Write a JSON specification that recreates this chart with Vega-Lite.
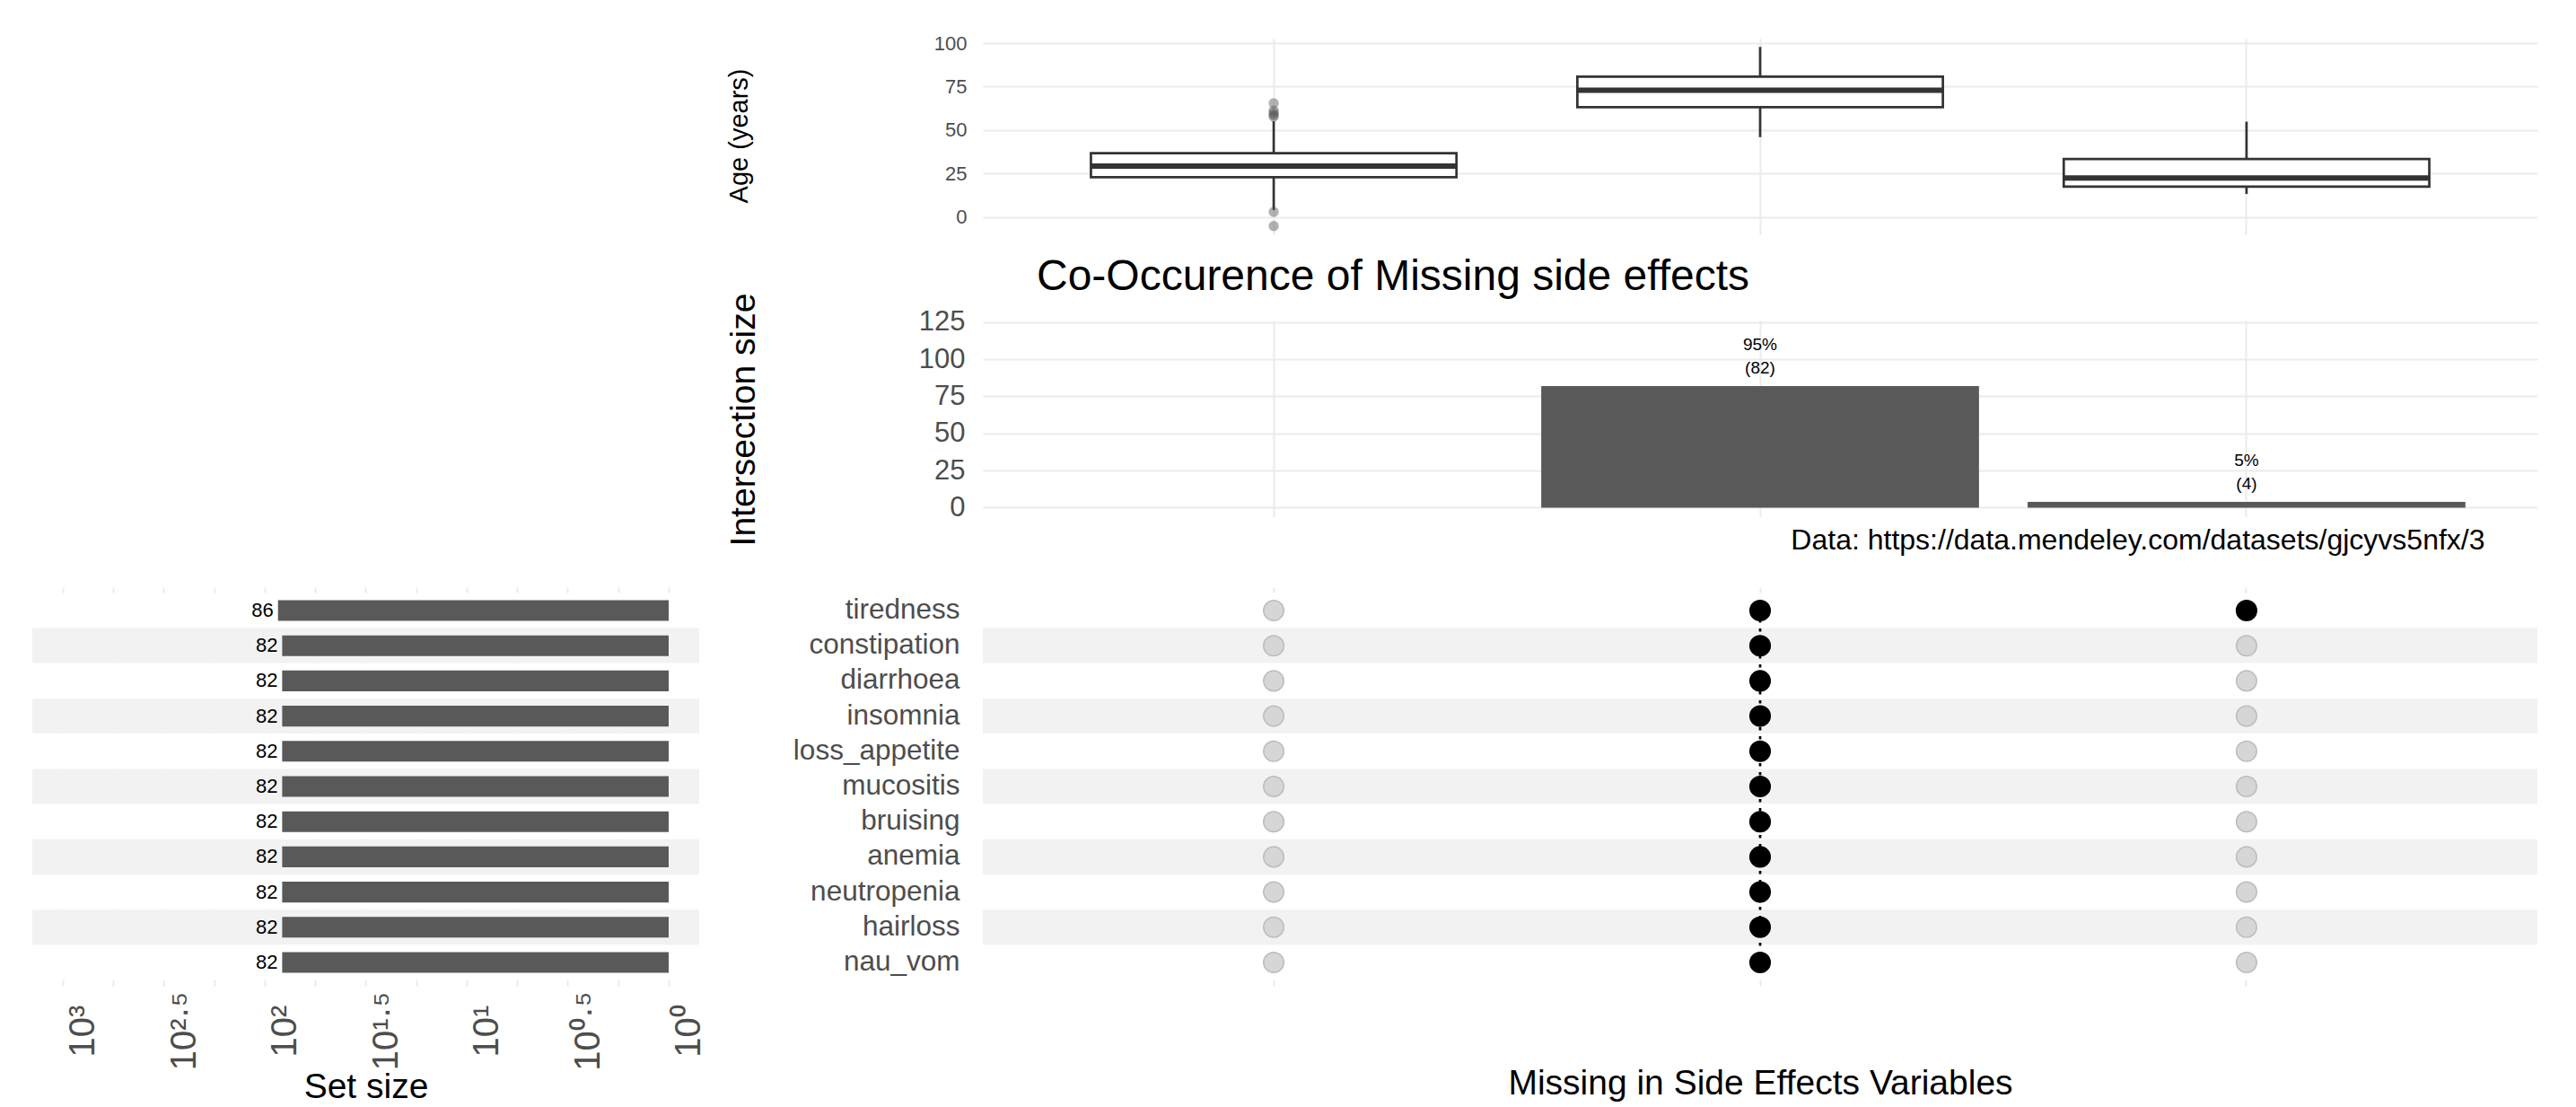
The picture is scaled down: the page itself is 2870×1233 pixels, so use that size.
{
  "$schema": "https://vega.github.io/schema/vega-lite/v6.json",
  "padding": {"left": 36, "top": 37, "right": 10, "bottom": 5},
  "background": "white",
  "config": {
    "font": "Liberation Sans",
    "view": {"stroke": null},
    "axis": {"domain": false, "ticks": false, "gridColor": "#ebebeb", "labelColor": "#4d4d4d", "titleColor": "#000000", "titleFontWeight": "normal", "labelOverlap": false, "labelLimit": 500},
    "title": {"fontWeight": "normal"}
  },
  "datasets": {
    "boxes": [
      {"col": "1", "lower": 4.0, "q1": 22.9, "median": 29.3, "q3": 36.7, "upper": 55.1},
      {"col": "2", "lower": 45.9, "q1": 63.1, "median": 72.9, "q3": 80.7, "upper": 97.8},
      {"col": "3", "lower": 13.2, "q1": 17.4, "median": 22.4, "q3": 33.3, "upper": 54.8}
    ],
    "outliers": [
      {"col": "1", "age": 65.4}, {"col": "1", "age": 61.2}, {"col": "1", "age": 59.8},
      {"col": "1", "age": 58.6}, {"col": "1", "age": 57.7}, {"col": "1", "age": 2.9},
      {"col": "1", "age": -5.2}
    ],
    "intersections": [
      {"col": "2", "size": 82, "label": "95%\n(82)"},
      {"col": "3", "size": 4, "label": "5%\n(4)"}
    ],
    "sets": [
      {"set": "tiredness", "size": 86, "shade": "white"},
      {"set": "constipation", "size": 82, "shade": "grey"},
      {"set": "diarrhoea", "size": 82, "shade": "white"},
      {"set": "insomnia", "size": 82, "shade": "grey"},
      {"set": "loss_appetite", "size": 82, "shade": "white"},
      {"set": "mucositis", "size": 82, "shade": "grey"},
      {"set": "bruising", "size": 82, "shade": "white"},
      {"set": "anemia", "size": 82, "shade": "grey"},
      {"set": "neutropenia", "size": 82, "shade": "white"},
      {"set": "hairloss", "size": 82, "shade": "grey"},
      {"set": "nau_vom", "size": 82, "shade": "white"}
    ],
    "link": [{"col": "2", "from": "tiredness", "to": "nau_vom"}],
    "membership": [
      {"col": "1", "set": "tiredness", "present": "no"}, {"col": "2", "set": "tiredness", "present": "yes"}, {"col": "3", "set": "tiredness", "present": "yes"},
      {"col": "1", "set": "constipation", "present": "no"}, {"col": "2", "set": "constipation", "present": "yes"}, {"col": "3", "set": "constipation", "present": "no"},
      {"col": "1", "set": "diarrhoea", "present": "no"}, {"col": "2", "set": "diarrhoea", "present": "yes"}, {"col": "3", "set": "diarrhoea", "present": "no"},
      {"col": "1", "set": "insomnia", "present": "no"}, {"col": "2", "set": "insomnia", "present": "yes"}, {"col": "3", "set": "insomnia", "present": "no"},
      {"col": "1", "set": "loss_appetite", "present": "no"}, {"col": "2", "set": "loss_appetite", "present": "yes"}, {"col": "3", "set": "loss_appetite", "present": "no"},
      {"col": "1", "set": "mucositis", "present": "no"}, {"col": "2", "set": "mucositis", "present": "yes"}, {"col": "3", "set": "mucositis", "present": "no"},
      {"col": "1", "set": "bruising", "present": "no"}, {"col": "2", "set": "bruising", "present": "yes"}, {"col": "3", "set": "bruising", "present": "no"},
      {"col": "1", "set": "anemia", "present": "no"}, {"col": "2", "set": "anemia", "present": "yes"}, {"col": "3", "set": "anemia", "present": "no"},
      {"col": "1", "set": "neutropenia", "present": "no"}, {"col": "2", "set": "neutropenia", "present": "yes"}, {"col": "3", "set": "neutropenia", "present": "no"},
      {"col": "1", "set": "hairloss", "present": "no"}, {"col": "2", "set": "hairloss", "present": "yes"}, {"col": "3", "set": "hairloss", "present": "no"},
      {"col": "1", "set": "nau_vom", "present": "no"}, {"col": "2", "set": "nau_vom", "present": "yes"}, {"col": "3", "set": "nau_vom", "present": "no"}
    ]
  },
  "columns": 2,
  "align": "each",
  "bounds": "flush",
  "spacing": {"row": 78, "column": 316},
  "resolve": {"scale": {"x": "independent", "y": "independent", "color": "independent", "fill": "independent", "stroke": "independent"}},
  "concat": [
    {"width": 743, "height": 235.5, "data": {"values": []}, "mark": "point"},
    {
      "width": 1732, "height": 218,
      "encoding": {
        "x": {"field": "col", "type": "nominal",
          "scale": {"type": "band", "domain": ["1", "2", "3"], "paddingInner": 0.1, "paddingOuter": 0.148},
          "axis": {"grid": true, "gridWidth": 2, "bandPosition": 0.5, "labels": false, "title": null}}
      },
      "layer": [
        {"data": {"name": "boxes"}, "mark": {"type": "rule", "color": "#333333", "strokeWidth": 2.7, "opacity": 1},
          "encoding": {
            "y": {"field": "lower", "type": "quantitative", "title": "Age (years)",
              "scale": {"domain": [-10, 102.6], "nice": false, "zero": false},
              "axis": {"values": [0, 12.5, 25, 37.5, 50, 62.5, 75, 87.5, 100],
                "labelExpr": "datum.value % 25 === 0 ? datum.label : ''",
                "grid": true, "gridWidth": {"condition": {"test": "datum.value % 25 === 0", "value": 2}, "value": 1.2},
                "labelFontSize": 22, "labelPadding": 18,
                "titleFontSize": 29, "titleAngle": 270, "titleX": -263, "titleY": 108, "titleBaseline": "alphabetic"}},
            "y2": {"field": "upper"}}},
        {"data": {"name": "boxes"}, "mark": {"type": "bar", "fill": "white", "stroke": "#333333", "strokeWidth": 2.7, "opacity": 1, "width": {"band": 0.835}},
          "encoding": {"y": {"field": "q1", "type": "quantitative", "title": "Age (years)"}, "y2": {"field": "q3"}}},
        {"data": {"name": "boxes"}, "mark": {"type": "tick", "color": "#333333", "thickness": 6, "size": 407, "opacity": 1},
          "encoding": {"y": {"field": "median", "type": "quantitative", "title": "Age (years)"}}},
        {"data": {"name": "outliers"}, "mark": {"type": "point", "filled": true, "color": "#555555", "opacity": 0.45, "size": 130},
          "encoding": {"y": {"field": "age", "type": "quantitative", "title": "Age (years)"}}}
      ]
    },
    {"width": 743, "height": 218.5, "data": {"values": []}, "mark": "point"},
    {
      "width": 1732, "height": 218.5,
      "title": {"text": "Co-Occurence of Missing side effects", "anchor": "start", "frame": "group", "fontSize": 48, "dx": 60, "offset": -45, "color": "#000000", "baseline": "alphabetic"},
      "data": {"name": "intersections"},
      "encoding": {
        "x": {"field": "col", "type": "nominal",
          "scale": {"type": "band", "domain": ["1", "2", "3"], "paddingInner": 0.1, "paddingOuter": 0.148},
          "axis": {"grid": true, "gridWidth": 2, "bandPosition": 0.5, "labels": false,
            "title": "Data: https://data.mendeley.com/datasets/gjcyvs5nfx/3", "titleFontSize": 32,
            "titleAlign": "right", "titleX": 1673, "titleY": 36, "titleBaseline": "alphabetic"}}
      },
      "layer": [
        {"mark": {"type": "bar", "color": "#595959"},
          "encoding": {
            "y": {"field": "size", "type": "quantitative", "title": "Intersection size",
              "scale": {"domain": [-6.05, 126.1], "nice": false, "zero": false},
              "axis": {"values": [0, 12.5, 25, 37.5, 50, 62.5, 75, 87.5, 100, 112.5, 125],
                "labelExpr": "datum.value % 25 === 0 ? datum.label : ''",
                "grid": true, "gridWidth": {"condition": {"test": "datum.value % 25 === 0", "value": 2}, "value": 1.2},
                "labelFontSize": 31, "labelPadding": 20,
                "titleFontSize": 39, "titleAngle": 270, "titleX": -255, "titleY": 110, "titleBaseline": "alphabetic"}},
            "y2": {"datum": 0}}},
        {"mark": {"type": "text", "lineBreak": "\n", "baseline": "bottom", "dy": -36, "fontSize": 19, "lineHeight": 26, "color": "#000000"},
          "encoding": {"y": {"field": "size", "type": "quantitative", "title": "Intersection size"}, "text": {"field": "label"}}}
      ]
    },
    {
      "width": 743, "height": 444,
      "data": {"name": "sets"},
      "encoding": {
        "y": {"field": "set", "type": "nominal", "sort": null,
          "scale": {"type": "band", "domain": ["tiredness", "constipation", "diarrhoea", "insomnia", "loss_appetite", "mucositis", "bruising", "anemia", "neutropenia", "hairloss", "nau_vom"], "paddingInner": 0, "paddingOuter": 0.163},
          "axis": null}
      },
      "layer": [
        {"mark": {"type": "rect"},
          "encoding": {"x": {"value": 0}, "x2": {"value": "width"},
            "color": {"field": "shade", "type": "nominal", "scale": {"domain": ["white", "grey"], "range": ["#ffffff", "#f2f2f2"]}, "legend": null}}},
        {"mark": {"type": "bar", "color": "#595959", "height": {"band": 0.59}},
          "encoding": {
            "x": {"field": "size", "type": "quantitative", "title": "Set size",
              "scale": {"type": "log", "domain": [0.706, 1416], "reverse": true, "nice": false},
              "axis": {"values": [1, 1.7783, 3.1623, 5.6234, 10, 17.783, 31.623, 56.234, 100, 177.83, 316.23, 562.34, 1000],
                "labelExpr": "{'0.00':'10⁰','0.50':'10⁰·⁵','1.00':'10¹','1.50':'10¹·⁵','2.00':'10²','2.50':'10²·⁵','3.00':'10³'}[format(log(datum.value)/LN10,'.2f')] || ''",
                "grid": true, "gridWidth": 2, "labelAngle": 270, "labelAlign": "center", "labelBaseline": "middle",
                "labelPadding": 50, "labelOffset": 23, "labelFontSize": 40, "labelFlush": false,
                "titleFontSize": 39, "titleY": 124, "titleBaseline": "alphabetic"}},
            "x2": {"datum": 1}}},
        {"mark": {"type": "text", "align": "right", "dx": -5, "fontSize": 22, "baseline": "middle", "color": "#000000"},
          "encoding": {"x": {"field": "size", "type": "quantitative", "title": "Set size"}, "text": {"field": "size"}}}
      ]
    },
    {
      "width": 1732, "height": 444,
      "encoding": {
        "x": {"field": "col", "type": "nominal",
          "scale": {"type": "band", "domain": ["1", "2", "3"], "paddingInner": 0.1, "paddingOuter": 0.148},
          "axis": {"grid": true, "gridWidth": 2, "bandPosition": 0.5, "labels": false,
            "title": "Missing in Side Effects Variables", "titleFontSize": 39, "titleY": 120, "titleBaseline": "alphabetic"}},
        "y": {"field": "set", "type": "nominal", "sort": null,
          "scale": {"type": "band", "domain": ["tiredness", "constipation", "diarrhoea", "insomnia", "loss_appetite", "mucositis", "bruising", "anemia", "neutropenia", "hairloss", "nau_vom"], "paddingInner": 0, "paddingOuter": 0.163},
          "axis": {"title": null, "grid": false, "labelFontSize": 31.5, "labelPadding": 26}}
      },
      "layer": [
        {"data": {"name": "sets"}, "mark": {"type": "rect"},
          "encoding": {"x": {"value": 0}, "x2": {"value": "width"},
            "color": {"field": "shade", "type": "nominal", "scale": {"domain": ["white", "grey"], "range": ["#ffffff", "#f2f2f2"]}, "legend": null}}},
        {"data": {"name": "link"}, "mark": {"type": "rule", "color": "#000000", "strokeWidth": 2.7, "strokeDash": [3.5, 6.5]},
          "encoding": {"y": {"field": "from", "type": "nominal", "sort": null, "title": null}, "y2": {"field": "to"}}},
        {"data": {"name": "membership"}, "mark": {"type": "point", "filled": true, "size": 510, "strokeWidth": 1.5, "opacity": 1, "fillOpacity": 1},
          "encoding": {
            "fill": {"field": "present", "type": "nominal", "scale": {"domain": ["yes", "no"], "range": ["#000000", "#d6d6d6"]}, "legend": null},
            "stroke": {"field": "present", "type": "nominal", "scale": {"domain": ["yes", "no"], "range": ["#000000", "#bdbdbd"]}, "legend": null}}}
      ]
    }
  ]
}
